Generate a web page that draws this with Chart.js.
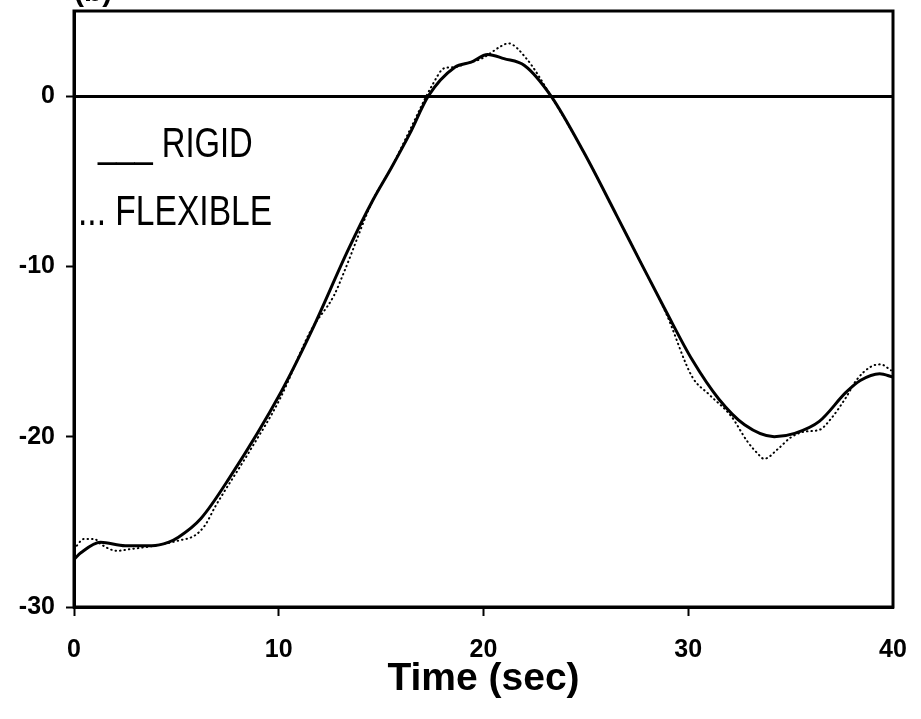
<!DOCTYPE html>
<html>
<head>
<meta charset="utf-8">
<script src="https://cdn.jsdelivr.net/npm/chart.js@4/dist/chart.umd.min.js"></script>
<style>
  html, body { margin: 0; padding: 0; background: #fff; }
  canvas { display: block; }
</style>
</head>
<body>
<canvas id="c" width="921" height="719"></canvas>
<script>
// Time axis (sec) and response values for each model
const rigidTime = [0, 0.35, 1.3, 2.5, 3.8, 4.6, 5.1, 6.2, 7.6, 10.1, 11.6, 13.4, 14.6, 15.5, 16.4, 17.3, 18.6, 19.4, 20.2, 21.0, 22.0, 23.3, 24.9, 26.5, 27.65, 28.9, 30.2, 31.5, 32.75, 34.2, 35.2, 36.4, 37.7, 38.4, 39.35, 40];
const rigidValues = [-27.2, -26.8, -26.2, -26.4, -26.4, -26.2, -25.9, -24.8, -22.4, -17.4, -13.8, -9.0, -6.1, -4.2, -2.2, 0, 1.7, 2.0, 2.45, 2.2, 1.8, 0, -3.3, -7.0, -9.7, -12.6, -15.5, -17.8, -19.3, -20.0, -19.8, -19.1, -17.4, -16.7, -16.3, -16.5];

const flexTime = [0, 0.5, 1.0, 1.3, 2.1, 2.75, 3.95, 5.1, 5.9, 6.4, 6.9, 8.55, 10.05, 11.55, 12.7, 13.2, 14.6, 15.5, 16.4, 17.5, 18.1, 18.6, 19.1, 19.9, 20.9, 21.2, 22.1, 23.3, 24.9, 26.5, 27.65, 28.9, 30.2, 31.0, 32.1, 32.9, 33.4, 33.7, 34.4, 35.0, 35.7, 36.4, 37.0, 37.7, 38.2, 38.9, 39.4, 39.9];
const flexValues = [-26.6, -26.0, -26.0, -26.3, -26.7, -26.6, -26.4, -26.1, -25.8, -25.2, -24.1, -20.9, -17.8, -13.8, -11.7, -10.3, -6.1, -4.2, -2.0, 0.65, 1.65, 1.7, 1.9, 2.2, 2.96, 3.1, 2.2, 0, -3.3, -7.0, -9.7, -12.7, -16.5, -17.5, -18.8, -20.3, -21.0, -21.3, -20.7, -20.05, -19.7, -19.6, -18.9, -17.7, -16.7, -15.9, -15.75, -16.1];

const xTicks = [0, 10, 20, 30, 40];
const yTicks = [-30, -20, -10, 0];

const toPoints = (xs, ys) => xs.map((x, i) => ({ x: x, y: ys[i] }));
const FONT = '"Liberation Sans", Arial, sans-serif';

// Box frame, in-plot key and panel tag
const frameAndKey = {
  id: 'frameAndKey',
  afterDraw(chart) {
    const { ctx, chartArea: a } = chart;
    ctx.save();
    ctx.strokeStyle = '#000';
    ctx.lineWidth = 3;
    ctx.strokeRect(a.left, a.top, a.right - a.left, a.bottom - a.top);

    ctx.fillStyle = '#000';
    ctx.textBaseline = 'alphabetic';
    ctx.font = '42px ' + FONT;

    ctx.save();
    ctx.translate(98, 157);
    ctx.scale(0.78, 1);
    ctx.fillText('___ RIGID', 0, 0);
    ctx.restore();

    ctx.save();
    ctx.translate(78, 225);
    ctx.scale(0.8, 1);
    ctx.fillText('... FLEXIBLE', 0, 0);
    ctx.restore();

    ctx.font = 'bold 30px ' + FONT;
    ctx.fillText('(b)', 74, 1);
    ctx.restore();
  }
};

new Chart(document.getElementById('c'), {
  type: 'line',
  data: {
    datasets: [
      {
        label: 'RIGID',
        data: toPoints(rigidTime, rigidValues),
        borderColor: '#000',
        borderWidth: 3,
        pointRadius: 0,
        cubicInterpolationMode: 'monotone',
        fill: false
      },
      {
        label: 'FLEXIBLE',
        data: toPoints(flexTime, flexValues),
        borderColor: '#000',
        borderWidth: 2,
        borderDash: [0.5, 4],
        borderCapStyle: 'round',
        pointRadius: 0,
        cubicInterpolationMode: 'monotone',
        fill: false
      }
    ]
  },
  options: {
    responsive: false,
    animation: false,
    devicePixelRatio: 1,
    layout: { padding: { top: 11, right: 28, left: 0, bottom: 0 } },
    plugins: {
      legend: { display: false },
      tooltip: { enabled: false },
      title: { display: false }
    },
    scales: {
      x: {
        type: 'linear',
        min: 0,
        max: 40,
        afterBuildTicks: s => { s.ticks = xTicks.map(v => ({ value: v })); },
        afterFit: s => { s.height = 112; s.paddingLeft = 0; s.paddingRight = 0; },
        border: { display: true, color: '#000', width: 3 },
        grid: {
          drawOnChartArea: false,
          drawTicks: true,
          tickLength: 9,
          tickWidth: 2,
          tickColor: c => (c.tick && c.tick.value === 40 ? 'rgba(0,0,0,0)' : '#000')
        },
        ticks: {
          color: '#000',
          padding: 19,
          maxRotation: 0,
          font: { family: FONT, size: 25, weight: 'bold' }
        },
        title: {
          display: true,
          text: 'Time (sec)',
          color: '#000',
          padding: { top: 0, bottom: 20 },
          font: { family: FONT, size: 39, weight: 'bold', lineHeight: 1 }
        }
      },
      y: {
        type: 'linear',
        min: -30,
        max: 5,
        afterBuildTicks: s => { s.ticks = yTicks.map(v => ({ value: v })); },
        afterFit: s => { s.width = 74; s.paddingTop = 0; s.paddingBottom = 0; },
        border: { display: true, color: '#000', width: 3 },
        grid: {
          drawOnChartArea: true,
          drawTicks: true,
          tickLength: 8,
          tickWidth: 2,
          tickColor: '#000',
          color: c => (c.tick && c.tick.value === 0 ? '#000' : 'rgba(0,0,0,0)'),
          lineWidth: 3
        },
        ticks: {
          color: '#000',
          padding: 11,
          font: { family: FONT, size: 25, weight: 'bold' }
        }
      }
    }
  },
  plugins: [frameAndKey]
});
</script>
</body>
</html>
